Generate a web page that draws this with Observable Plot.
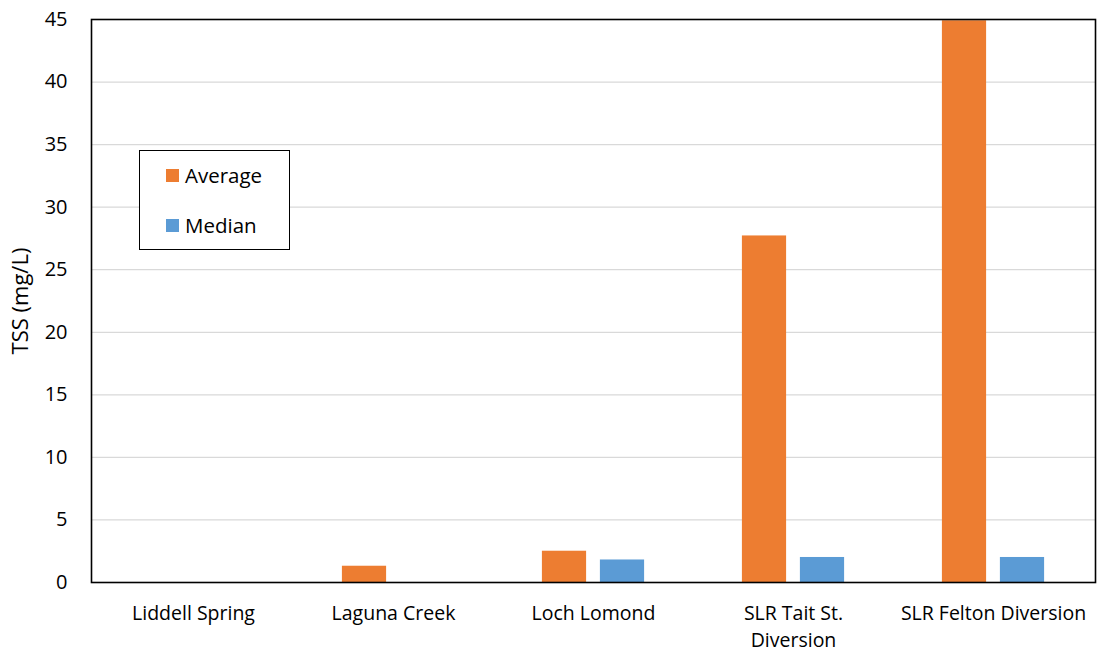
<!DOCTYPE html>
<html>
<head>
<meta charset="utf-8">
<script src="https://cdn.jsdelivr.net/npm/d3@7"></script>
<script src="https://cdn.jsdelivr.net/npm/@observablehq/plot@0.6"></script>
<style>
  html, body { margin: 0; padding: 0; background: #fff; }
  #wrap { position: relative; width: 1099px; height: 653px; font-family: "Open Sans", sans-serif; }
  #legend { position: absolute; left: 139px; top: 150px; width: 149px; height: 98px; border: 1.5px solid #000; background: #fff; font-size: 20.5px; color: #000; }
  .item { position: absolute; left: 26px; display: flex; align-items: center; }
  .sw { width: 13px; height: 13px; margin-right: 6px; }
</style>
</head>
<body>
<div id="wrap"></div>
<script>
const sites = ["Liddell Spring", "Laguna Creek", "Loch Lomond", "SLR Tait St. Diversion", "SLR Felton Diversion"];
const tickLabels = ["Liddell Spring", "Laguna Creek", "Loch Lomond", "SLR Tait St.\nDiversion", "SLR Felton Diversion"];
const average = [0, 1.3, 2.5, 27.7, 44.9];
const median = [0, 0, 1.8, 2.0, 2.0];
const seriesNames = ["Average", "Median"];
const seriesColors = ["#ED7D31", "#5B9BD5"];
const yTicks = [0, 5, 10, 15, 20, 25, 30, 35, 40, 45];
const yLabel = "TSS (mg/L)";

const data = sites.map((s, i) => ({site: s, average: average[i], median: median[i]}));
const labelOf = new Map(sites.map((s, i) => [s, tickLabels[i]]));

const chart = Plot.plot({
  width: 1099,
  height: 653,
  marginLeft: 91,
  marginRight: 4,
  marginTop: 19,
  marginBottom: 71,
  style: {fontFamily: "Open Sans, sans-serif", fontSize: "20px", color: "#000", background: "#fff"},
  x: {domain: sites, padding: 0, label: null},
  y: {domain: [0, 45], label: null},
  marks: [
    Plot.gridY(yTicks.filter(t => t > 0 && t < 45), {stroke: "#d9d9d9", strokeOpacity: 1, strokeWidth: 1.2}),
    Plot.barY(data, {x: "site", y: "average", fill: seriesColors[0], dx: -29, insetLeft: 77.9, insetRight: 77.9}),
    Plot.barY(data, {x: "site", y: "median", fill: seriesColors[1], dx: 29, insetLeft: 77.9, insetRight: 77.9}),
    Plot.axisY({ticks: yTicks, tickSize: 0, tickPadding: 24, label: null, fontSize: 20}),
    Plot.axisX({tickSize: 0, tickPadding: 18, label: null, tickFormat: d => labelOf.get(d), fontSize: 19.5, lineHeight: 1.38}),
    Plot.text([yLabel], {frameAnchor: "left", textAnchor: "middle", rotate: -90, dx: -71, fontSize: 22, fill: "#000"}),
    Plot.frame({stroke: "#000", strokeWidth: 1.6})
  ]
});

const wrap = document.getElementById("wrap");
wrap.appendChild(chart);
const legend = document.createElement("div");
legend.id = "legend";
seriesNames.forEach((name, i) => {
  const it = document.createElement("div");
  it.className = "item";
  it.style.top = (i === 0 ? 10 : 60) + "px";
  const sw = document.createElement("span");
  sw.className = "sw";
  sw.style.background = seriesColors[i];
  const t = document.createElement("span");
  t.textContent = name;
  it.appendChild(sw); it.appendChild(t);
  legend.appendChild(it);
});
wrap.appendChild(legend);
</script>
</body>
</html>
